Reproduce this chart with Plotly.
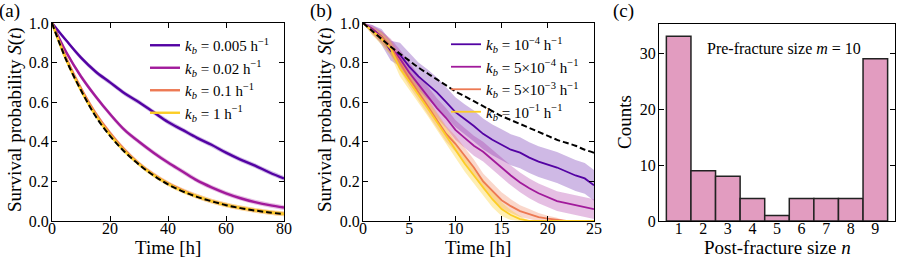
import plotly.graph_objects as go

# ---------------- data ----------------
# Panel (a)
t_a = [0, 5, 10, 15, 20, 25, 30, 35, 40, 45, 50, 55, 60, 65, 70, 75, 80]
S_a_0005 = [1.0, 0.91, 0.825, 0.755, 0.70, 0.645, 0.60, 0.55, 0.50, 0.46, 0.42, 0.385, 0.345, 0.31, 0.28, 0.245, 0.215]
S_a_002 = [1.0, 0.85, 0.73, 0.63, 0.54, 0.46, 0.40, 0.345, 0.295, 0.25, 0.205, 0.17, 0.14, 0.115, 0.095, 0.08, 0.068]
S_a_01 = [1.0, 0.82, 0.67, 0.545, 0.445, 0.36, 0.29, 0.235, 0.19, 0.155, 0.125, 0.10, 0.082, 0.066, 0.054, 0.044, 0.036]
S_a_1 = [1.0, 0.81, 0.66, 0.535, 0.435, 0.353, 0.287, 0.232, 0.188, 0.152, 0.124, 0.10, 0.081, 0.066, 0.054, 0.044, 0.036]
S_a_exp = [1.0, 0.81, 0.66, 0.53, 0.43, 0.35, 0.285, 0.23, 0.185, 0.15, 0.122, 0.10, 0.08, 0.065, 0.053, 0.043, 0.035]
band_a = [0.0, 0.008, 0.012, 0.012, 0.012, 0.012, 0.012, 0.012, 0.012, 0.012, 0.012, 0.012, 0.012, 0.012, 0.012, 0.012, 0.012]
labels_a = ["0.005", "0.02", "0.1", "1"]

# Panel (b)
t_b = list(range(0, 26))
S_b_1e4 = [1.0, 0.97, 0.93, 0.86, 0.84, 0.78, 0.73, 0.69, 0.65, 0.60, 0.55, 0.515, 0.48, 0.44, 0.41, 0.385, 0.36, 0.345, 0.32, 0.30, 0.285, 0.27, 0.25, 0.23, 0.215, 0.18]
S_b_5e4 = [1.0, 0.97, 0.93, 0.88, 0.82, 0.75, 0.69, 0.63, 0.57, 0.52, 0.46, 0.42, 0.38, 0.35, 0.31, 0.27, 0.23, 0.195, 0.165, 0.14, 0.12, 0.10, 0.09, 0.08, 0.07, 0.06]
S_b_5e3 = [1.0, 0.96, 0.93, 0.88, 0.80, 0.72, 0.65, 0.58, 0.51, 0.44, 0.39, 0.33, 0.27, 0.20, 0.15, 0.105, 0.075, 0.05, 0.035, 0.02, 0.012, 0.006, 0.0, 0.0, 0.0, 0.0]
S_b_1e1 = [1.0, 0.96, 0.92, 0.87, 0.77, 0.705, 0.64, 0.57, 0.50, 0.43, 0.36, 0.29, 0.23, 0.17, 0.11, 0.06, 0.03, 0.01, 0.0, 0.0, 0.0, 0.0, 0.0, 0.0, 0.0, 0.0]
S_b_exp = [1.0, 0.96, 0.92, 0.88, 0.845, 0.81, 0.775, 0.745, 0.715, 0.685, 0.655, 0.63, 0.605, 0.58, 0.555, 0.53, 0.51, 0.49, 0.47, 0.45, 0.43, 0.41, 0.395, 0.38, 0.36, 0.345]
band_b_1e4 = [0.0, 0.02, 0.04, 0.05, 0.06, 0.07, 0.07, 0.075, 0.075, 0.075, 0.075, 0.075, 0.078, 0.078, 0.078, 0.078, 0.078, 0.078, 0.078, 0.078, 0.078, 0.078, 0.078, 0.078, 0.078, 0.078]
band_b_5e4 = [0.0, 0.02, 0.03, 0.04, 0.045, 0.05, 0.05, 0.05, 0.05, 0.05, 0.05, 0.05, 0.05, 0.05, 0.05, 0.05, 0.05, 0.05, 0.05, 0.05, 0.05, 0.05, 0.05, 0.05, 0.05, 0.05]
band_b_5e3 = [0.0, 0.02, 0.03, 0.035, 0.04, 0.04, 0.04, 0.04, 0.04, 0.04, 0.04, 0.04, 0.04, 0.04, 0.04, 0.04, 0.035, 0.03, 0.025, 0.02, 0.015, 0.01, 0.0, 0.0, 0.0, 0.0]
band_b_1e1 = [0.0, 0.02, 0.03, 0.035, 0.04, 0.04, 0.04, 0.04, 0.04, 0.04, 0.04, 0.04, 0.04, 0.04, 0.04, 0.035, 0.025, 0.015, 0.0, 0.0, 0.0, 0.0, 0.0, 0.0, 0.0, 0.0]
labels_b = ["10<sup>−4</sup>", "5×10<sup>−4</sup>", "5×10<sup>−3</sup>", "10<sup>−1</sup>"]

# Panel (c)
sizes_c = [1, 2, 3, 4, 5, 6, 7, 8, 9]
counts_c = [33, 9, 8, 4, 1, 4, 4, 4, 29]

colors = ["#5302a3", "#a11a9b", "#ed7953", "#fccd25"]
band_colors = ["rgba(83,2,163,0.28)", "rgba(161,26,155,0.28)", "rgba(237,121,83,0.3)", "rgba(252,205,37,0.35)"]

FONT = "'Liberation Serif', 'Times New Roman', serif"

fig = go.Figure()


def add_band(t, s, hw, color, xa, ya, shape):
    upper = [min(1.0, v + h) for v, h in zip(s, hw)]
    lower = [max(0.0, v - h) for v, h in zip(s, hw)]
    fig.add_trace(go.Scatter(x=t, y=upper, mode="lines", line=dict(width=0, shape=shape),
                             showlegend=False, hoverinfo="skip", xaxis=xa, yaxis=ya))
    fig.add_trace(go.Scatter(x=t, y=lower, mode="lines", line=dict(width=0, shape=shape),
                             fill="tonexty", fillcolor=color, showlegend=False,
                             hoverinfo="skip", xaxis=xa, yaxis=ya))


# ---- panel (a)
series_a = [S_a_0005, S_a_002, S_a_01, S_a_1]
for s, bc in zip(series_a, band_colors):
    add_band(t_a, s, band_a, bc, "x", "y", "spline")
for s, c, lab in zip(series_a, colors, labels_a):
    fig.add_trace(go.Scatter(x=t_a, y=s, mode="lines", line=dict(color=c, width=2.4, shape="spline"),
                             name=f"<i>k<sub>b</sub></i> = {lab} h<sup>−1</sup>",
                             legend="legend", xaxis="x", yaxis="y"))
fig.add_trace(go.Scatter(x=t_a, y=S_a_exp, mode="lines",
                         line=dict(color="black", width=2, dash="6px,3px", shape="spline"),
                         showlegend=False, xaxis="x", yaxis="y"))

# ---- panel (b)
series_b = [S_b_1e4, S_b_5e4, S_b_5e3, S_b_1e1]
bands_b = [band_b_1e4, band_b_5e4, band_b_5e3, band_b_1e1]
for s, hw, bc in zip(series_b, bands_b, band_colors):
    add_band(t_b, s, hw, bc, "x2", "y2", "linear")
for s, c, lab in zip(series_b, colors, labels_b):
    fig.add_trace(go.Scatter(x=t_b, y=s, mode="lines", line=dict(color=c, width=1.8),
                             name=f"<i>k<sub>b</sub></i> = {lab} h<sup>−1</sup>",
                             legend="legend2", xaxis="x2", yaxis="y2"))
fig.add_trace(go.Scatter(x=t_b, y=S_b_exp, mode="lines",
                         line=dict(color="black", width=2, dash="6px,3px", shape="spline"),
                         showlegend=False, xaxis="x2", yaxis="y2"))

# ---- panel (c)
fig.add_trace(go.Bar(x=sizes_c, y=counts_c, width=1.0,
                     marker=dict(color="#e29cc0", line=dict(color="#222222", width=1.5)),
                     showlegend=False, xaxis="x3", yaxis="y3"))

W, H = 897, 261


def px(x):
    return x / W


def py(y):
    return 1 - y / H


axis_common = dict(showline=True, linecolor="black", linewidth=1.2, mirror="allticks",
                   ticks="inside", ticklen=5, tickcolor="black", tickwidth=1, automargin=False,
                   showgrid=False, zeroline=False, tickfont=dict(family=FONT, size=16, color="black"))
xcommon = dict(ticklabelstandoff=-7)
ycommon = dict(ticklabelstandoff=-1)

ydom = [py(221), py(23)]

fig.update_layout(
    width=W, height=H,
    margin=dict(l=0, r=0, t=0, b=0),
    paper_bgcolor="white", plot_bgcolor="white",
    font=dict(family=FONT, size=15, color="black"),
    xaxis=dict(domain=[px(52), px(284)], range=[0, 80], tickvals=[0, 20, 40, 60, 80], anchor="y", **axis_common, **xcommon),
    yaxis=dict(domain=ydom, range=[0, 1], tickvals=[0, 0.2, 0.4, 0.6, 0.8, 1.0], tickformat=".1f", anchor="x", **axis_common, **ycommon),
    xaxis2=dict(domain=[px(363), px(594)], range=[0, 25], tickvals=[0, 5, 10, 15, 20, 25], anchor="y2", **axis_common, **xcommon),
    yaxis2=dict(domain=ydom, range=[0, 1], tickvals=[0, 0.2, 0.4, 0.6, 0.8, 1.0], tickformat=".1f", anchor="x2", **axis_common, **ycommon),
    xaxis3=dict(domain=[px(659), px(895)], range=[0.2, 9.8], tickvals=sizes_c, anchor="y3",
                **{**axis_common, "ticks": "", "mirror": True}, **xcommon),
    yaxis3=dict(domain=[py(221), py(24)], range=[0, 35.2], tickvals=[0, 10, 20, 30], anchor="x3", **axis_common, **ycommon),
    legend=dict(x=px(145), y=py(29), xanchor="left", yanchor="top", bgcolor="rgba(0,0,0,0)",
                traceorder="normal", font=dict(family=FONT, size=15), tracegroupgap=0),
    legend2=dict(x=px(446), y=py(28), xanchor="left", yanchor="top", bgcolor="rgba(0,0,0,0)",
                 traceorder="normal", font=dict(family=FONT, size=15), tracegroupgap=0),
)

ann = [
    dict(text="(a)", x=px(9), y=py(11)),
    dict(text="(b)", x=px(321), y=py(11)),
    dict(text="(c)", x=px(623), y=py(11)),
    dict(text="Time [h]", x=px(168), y=py(247)),
    dict(text="Time [h]", x=px(478), y=py(247)),
    dict(text="Post-fracture size <i>n</i>", x=px(777), y=py(247)),
    dict(text="Survival probability <i>S</i>(<i>t</i>)", x=px(15), y=py(120), textangle=-90),
    dict(text="Survival probability <i>S</i>(<i>t</i>)", x=px(325), y=py(120), textangle=-90),
    dict(text="Counts", x=px(625), y=py(122), textangle=-90),
]
for a in ann:
    fig.add_annotation(xref="paper", yref="paper", showarrow=False, xanchor="center", yanchor="middle",
                       font=dict(family=FONT, size=19, color="black"), **a)
fig.add_annotation(xref="paper", yref="paper", showarrow=False, xanchor="center", yanchor="middle",
                   x=px(784), y=py(48), text="Pre-fracture size <i>m</i> = 10",
                   font=dict(family=FONT, size=16, color="black"))

fig.write_html("out.html", config={"displayModeBar": False},
               post_script="document.body.style.margin='0px';document.body.style.padding='0px';")
